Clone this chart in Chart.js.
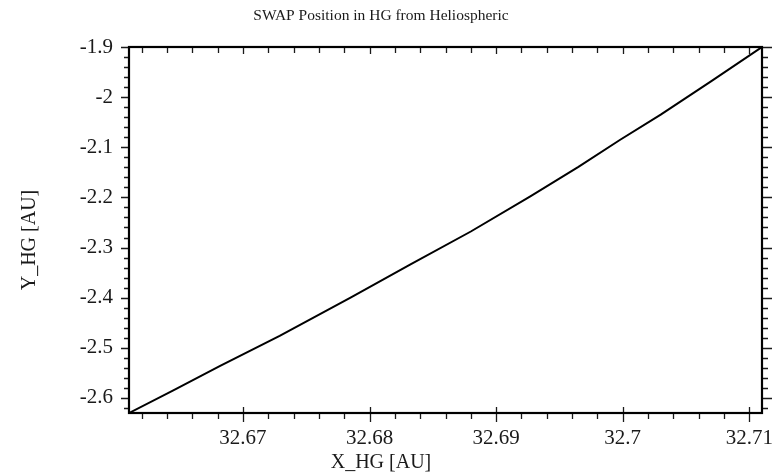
<!DOCTYPE html>
<html>
<head>
<meta charset="utf-8">
<title>SWAP Position in HG</title>
<script src="https://cdn.jsdelivr.net/npm/chart.js@4.4.1/dist/chart.umd.min.js"></script>
<style>
  html, body { margin: 0; padding: 0; background: #fff; }
  #wrap { width: 773px; height: 475px; }
</style>
</head>
<body>
<div id="wrap"><canvas id="posChart"></canvas></div>
<script>
'use strict';

// SWAP track in the HG frame [AU]
const xHG = [32.661, 32.6645, 32.6682, 32.6729, 32.6785, 32.6832, 32.6880, 32.6927, 32.6965, 32.6998, 32.7030, 32.7070, 32.7110];
const yHG = [-2.630, -2.585, -2.536, -2.476, -2.400, -2.334, -2.268, -2.198, -2.139, -2.085, -2.035, -1.968, -1.900];

const xMajor = [32.67, 32.68, 32.69, 32.7, 32.71];
const xMajorLabels = ['32.67', '32.68', '32.69', '32.7', '32.71'];
const xMinor = [32.662, 32.664, 32.666, 32.668, 32.672, 32.674, 32.676, 32.678,
    32.682, 32.684, 32.686, 32.688, 32.692, 32.694, 32.696, 32.698,
    32.702, 32.704, 32.706, 32.708];

const yMajor = [-1.9, -2, -2.1, -2.2, -2.3, -2.4, -2.5, -2.6];
const yMajorLabels = ['-1.9', '-2', '-2.1', '-2.2', '-2.3', '-2.4', '-2.5', '-2.6'];
const yMinor = [-1.92, -1.94, -1.96, -1.98, -2.02, -2.04, -2.06, -2.08,
    -2.12, -2.14, -2.16, -2.18, -2.22, -2.24, -2.26, -2.28,
    -2.32, -2.34, -2.36, -2.38, -2.42, -2.44, -2.46, -2.48,
    -2.52, -2.54, -2.56, -2.58, -2.62];

const serif = '"Liberation Serif", "Times New Roman", serif';
const ink = '#1a1a1a';

// frame + tick marks on all four sides, and the rotated y title
const frameTicks = {
    id: 'frameTicks',
    afterDraw(chart) {
        const ctx = chart.ctx;
        const a = chart.chartArea;
        const xs = chart.scales.x;
        const ys = chart.scales.y;
        ctx.save();
        ctx.strokeStyle = ink;
        ctx.lineWidth = 1.3;
        ctx.beginPath();
        const tickX = (vals, inB, outB, inT) => {
            vals.forEach(v => {
                const px = Math.round(xs.getPixelForValue(v)) + 0.5;
                ctx.moveTo(px, a.bottom - inB);
                ctx.lineTo(px, a.bottom + outB);
                ctx.moveTo(px, a.top);
                ctx.lineTo(px, a.top + inT);
            });
        };
        const tickY = (vals, outL, outR) => {
            vals.forEach(v => {
                const py = Math.round(ys.getPixelForValue(v)) + 0.5;
                ctx.moveTo(a.left - outL, py);
                ctx.lineTo(a.left, py);
                ctx.moveTo(a.right, py);
                ctx.lineTo(a.right + outR, py);
            });
        };
        tickX(xMinor, 0, 6, 6);
        tickX(xMajor, 6, 9, 7);
        tickY(yMinor, 5, 6);
        tickY(yMajor, 8, 10);
        ctx.stroke();

        ctx.lineWidth = 2.2;
        ctx.strokeStyle = '#000';
        ctx.strokeRect(a.left, a.top, a.right - a.left, a.bottom - a.top);

        ctx.fillStyle = ink;
        ctx.font = '20px ' + serif;
        ctx.textAlign = 'center';
        ctx.textBaseline = 'middle';
        ctx.translate(30, 240);
        ctx.rotate(-Math.PI / 2);
        ctx.fillText('Y_HG [AU]', 0, 0);
        ctx.restore();
    }
};

const ctx = document.getElementById('posChart');
const posChart = new Chart(ctx, {
    type: 'scatter',
    data: {
        datasets: [{
            data: xHG.map((x, i) => ({ x: x, y: yHG[i] })),
            showLine: true,
            borderColor: '#000',
            borderWidth: 2,
            pointRadius: 0,
            tension: 0
        }]
    },
    options: {
        responsive: true,
        maintainAspectRatio: false,
        animation: false,
        layout: { padding: { left: 0, right: 11, top: 0, bottom: 0 } },
        plugins: {
            legend: { display: false },
            tooltip: { enabled: false },
            title: {
                display: true,
                text: 'SWAP Position in HG from Heliospheric',
                color: ink,
                font: { family: serif, size: 15.5, weight: 'normal' },
                padding: { top: 7, bottom: 21.4 }
            },
            subtitle: {
                display: true,
                position: 'bottom',
                text: 'X_HG [AU]',
                color: ink,
                font: { family: serif, size: 20, weight: 'normal' },
                padding: 0
            }
        },
        scales: {
            x: {
                type: 'linear',
                min: 32.661,
                max: 32.711,
                grid: { display: false },
                border: { display: false },
                afterBuildTicks: scale => {
                    scale.ticks = xMajor.map(v => ({ value: v }));
                },
                afterFit: scale => {
                    // labels may hang past the frame; don't shrink the plot for them
                    scale.height = 38;
                    scale.paddingLeft = 0;
                    scale.paddingRight = 0;
                },
                ticks: {
                    color: ink,
                    font: { family: serif, size: 21 },
                    padding: 5,
                    maxRotation: 0,
                    callback: (v, i) => xMajorLabels[i]
                }
            },
            y: {
                type: 'linear',
                min: -2.63,
                max: -1.9,
                grid: { display: false },
                border: { display: false },
                afterBuildTicks: scale => {
                    scale.ticks = yMajor.map(v => ({ value: v }));
                },
                afterFit: scale => {
                    scale.width = 129;
                    scale.paddingTop = 0;
                    scale.paddingBottom = 0;
                },
                ticks: {
                    color: ink,
                    font: { family: serif, size: 21 },
                    padding: 8,
                    callback: (v, i) => yMajorLabels[i]
                }
            }
        }
    },
    plugins: [frameTicks]
});
</script>
</body>
</html>
